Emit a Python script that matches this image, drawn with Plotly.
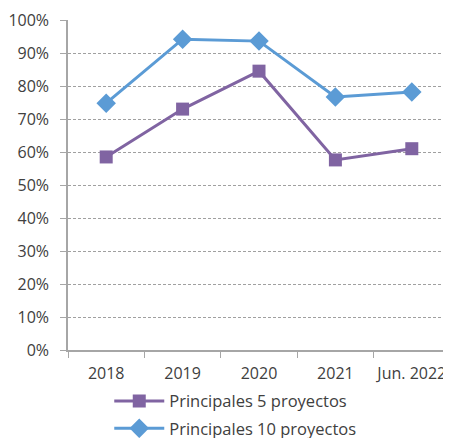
import plotly.graph_objects as go

anios = ["2018", "2019", "2020", "2021", "Jun. 2022"]
top5 = [0.585, 0.730, 0.845, 0.576, 0.610]
top10 = [0.748, 0.942, 0.936, 0.767, 0.782]

texto = "#404040"
gris = "#a6a6a6"

fig = go.Figure()

fig.add_trace(go.Scatter(
    x=anios, y=top5, name="Principales 5 proyectos",
    mode="lines+markers", legendgroup="a",
    line=dict(color="#8064A2", width=3),
    marker=dict(symbol="square", size=13, color="#8064A2"),
))

fig.add_trace(go.Scatter(
    x=anios, y=top10, name="Principales 10 proyectos",
    mode="lines+markers", legendgroup="b",
    line=dict(color="#5B9BD5", width=3),
    marker=dict(symbol="diamond", size=15, color="#5B9BD5"),
))

# la página añade 8px de margen, por eso 443x430
fig.update_layout(
    width=443, height=430,
    plot_bgcolor="white",
    paper_bgcolor="white",
    font=dict(family="Open Sans", size=16, color=texto),
    margin=dict(l=60, r=1, t=12, b=88, autoexpand=False),
    showlegend=True,
    legend=dict(
        orientation="v",
        x=0.108, xanchor="left",
        y=-0.102, yanchor="top",
        itemwidth=50,
        tracegroupgap=3,
        font=dict(size=16.5, color=texto),
        bgcolor="rgba(0,0,0,0)",
    ),
)

fig.update_xaxes(
    type="category",
    range=[-0.5, 4.5],
    automargin=False,
    tickangle=0,
    showgrid=False,
    showline=True, linecolor=gris, linewidth=1.5,
    ticks="outside", tickson="boundaries", ticklen=6, tickcolor=gris,
    ticklabelstandoff=8,
    tickfont=dict(size=16, color=texto),
)

fig.update_yaxes(
    range=[0, 1],
    dtick=0.1,
    tickformat=".0%",
    automargin=False,
    showgrid=True, gridcolor="#a0a0a0", griddash="3px,2px", gridwidth=1,
    showline=True, linecolor=gris, linewidth=1.5,
    ticks="outside", ticklen=6, tickcolor=gris,
    ticklabelstandoff=8,
    zeroline=False,
    tickfont=dict(size=16, color=texto),
)

fig.write_html("out.html")
